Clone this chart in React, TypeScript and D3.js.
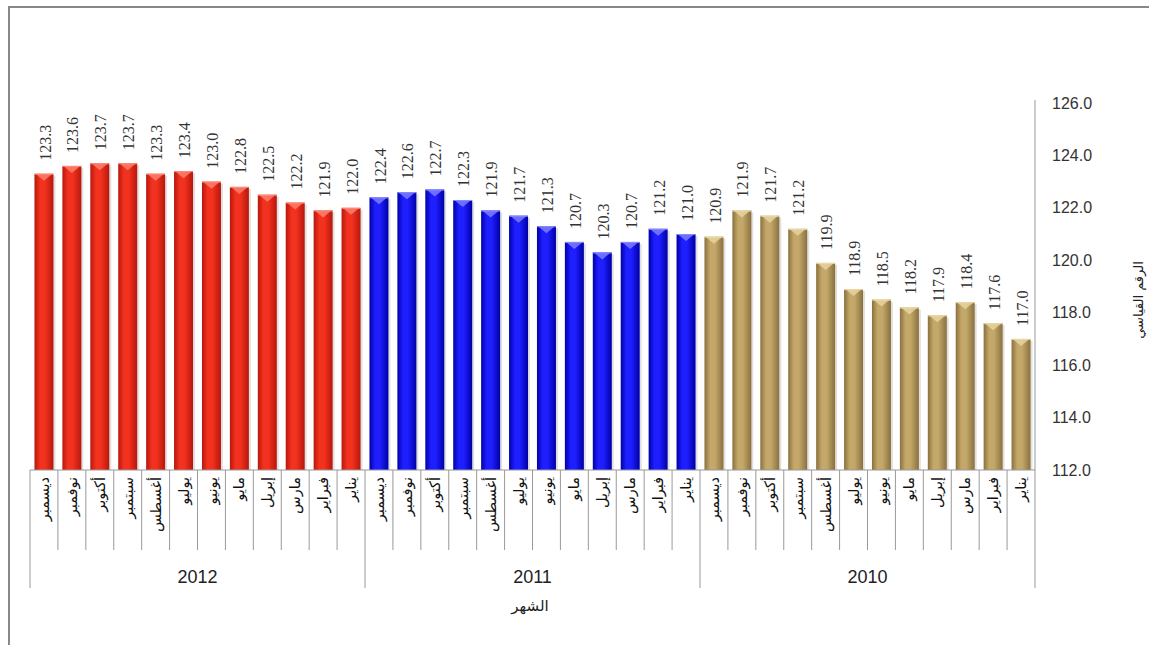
import React from 'react';
import * as d3 from 'd3';

// years are shown left to right, months within each year from December to January
const years = ['2012', '2011', '2010'];
const months = ['ديسمبر', 'نوفمبر', 'أكتوبر', 'سبتمبر', 'أغسطس', 'يوليو', 'يونيو', 'مايو', 'إبريل', 'مارس', 'فبراير', 'يناير'];
const values2012 = [123.3, 123.6, 123.7, 123.7, 123.3, 123.4, 123.0, 122.8, 122.5, 122.2, 121.9, 122.0];
const values2011 = [122.4, 122.6, 122.7, 122.3, 121.9, 121.7, 121.3, 120.7, 120.3, 120.7, 121.2, 121.0];
const values2010 = [120.9, 121.9, 121.7, 121.2, 119.9, 118.9, 118.5, 118.2, 117.9, 118.4, 117.6, 117.0];
const yTicks = [112, 114, 116, 118, 120, 122, 124, 126];
const yTitle = 'الرقم القياسي';
const xTitle = 'الشهر';

const seriesValues = [values2012, values2011, values2010];
const palette = [
  { id: 'red', edge: '#b8170c', mid: '#f2321f', light: '#ff8a78' },
  { id: 'blue', edge: '#0000a8', mid: '#1e1eff', light: '#8a8aff' },
  { id: 'gold', edge: '#8a703e', mid: '#c4a86a', light: '#ecd9a6' },
];

const W = 1149;
const H = 645;
const left = 30;
const right = 1035;
const bottom = 470;
const top = 103;

const arabicFont = '"DejaVu Sans", sans-serif';
const latinFont = '"Liberation Sans", Arial, sans-serif';
const serifFont = '"Liberation Serif", "Times New Roman", serif';

const App: React.FC = () => {
  const data = years.flatMap((yr, gi) =>
    months.map((m, mi) => ({ key: `${yr}-${mi}`, year: yr, group: gi, month: m, value: seriesValues[gi][mi] }))
  );

  const x = d3.scaleBand<string>()
    .domain(data.map(d => d.key))
    .range([left, right])
    .paddingInner(0.32)
    .paddingOuter(0.16);

  const y = d3.scaleLinear().domain([112, 126]).range([bottom, top]);

  const step = x.step();
  const bw = x.bandwidth();
  const groupW = step * months.length;
  const boundaries = d3.range(data.length + 1).map(i => left + i * step);

  return (
    <svg width={W} height={H} style={{ position: 'absolute', left: 0, top: 0, background: '#fff' }}>
      <defs>
        {palette.map(p => (
          <linearGradient key={p.id} id={`g-${p.id}`} x1="0" x2="1" y1="0" y2="0">
            <stop offset="0%" stopColor={p.edge} />
            <stop offset="30%" stopColor={p.mid} />
            <stop offset="55%" stopColor={p.mid} />
            <stop offset="100%" stopColor={p.edge} />
          </linearGradient>
        ))}
      </defs>

      {/* outer frame (only top and left edges are visible) */}
      <line x1={8} x2={W} y1={7} y2={7} stroke="#888" strokeWidth={2} />
      <line x1={9} x2={9} y1={6} y2={H} stroke="#888" strokeWidth={2} />

      {/* bars */}
      {data.map(d => {
        const bx = x(d.key) as number;
        const by = y(d.value);
        const p = palette[d.group];
        return (
          <g key={d.key}>
            <rect x={bx + 2} y={by + 2} width={bw} height={bottom - by - 2} fill="#000" opacity={0.12} />
            <rect x={bx} y={by} width={bw} height={bottom - by} fill={`url(#g-${p.id})`} />
            <polygon
              points={`${bx + 1},${by} ${bx + bw - 1},${by} ${bx + bw / 2},${by + 7}`}
              fill={p.light}
              opacity={0.75}
            />
            <line x1={bx} x2={bx + bw} y1={by + 0.5} y2={by + 0.5} stroke={p.light} strokeWidth={1} />
          </g>
        );
      })}

      {/* value labels */}
      {data.map(d => {
        const cx = (x(d.key) as number) + bw / 2;
        return (
          <text
            key={`v-${d.key}`}
            transform={`translate(${cx + 1},${y(d.value) - 13}) rotate(-90)`}
            dy="0.35em"
            textAnchor="start"
            fontFamily={serifFont}
            fontSize={16}
            fill="#333"
          >
            {d.value.toFixed(1)}
          </text>
        );
      })}

      {/* category axis */}
      <line x1={left} x2={right} y1={bottom} y2={bottom} stroke="#999" strokeWidth={1} />
      {boundaries.map((bx, i) => (
        <line
          key={`t-${i}`}
          x1={bx}
          x2={bx}
          y1={bottom}
          y2={i % months.length === 0 ? 588 : 550}
          stroke="#999"
          strokeWidth={1}
        />
      ))}
      {data.map(d => {
        const cx = (x(d.key) as number) + bw / 2;
        return (
          <text
            key={`m-${d.key}`}
            transform={`translate(${cx},${bottom + 7}) rotate(-90)`}
            dy="0.35em"
            textAnchor="end"
            fontFamily={arabicFont}
            fontSize={14.5}
            fill="#111"
          >
            {d.month}
          </text>
        );
      })}
      {years.map((yr, gi) => (
        <text
          key={`y-${yr}`}
          x={left + groupW * gi + groupW / 2}
          y={583}
          textAnchor="middle"
          fontFamily={latinFont}
          fontSize={18}
          fill="#222"
        >
          {yr}
        </text>
      ))}
      <text x={530} y={611} textAnchor="middle" fontFamily={arabicFont} fontSize={15} fill="#222">
        {xTitle}
      </text>

      {/* value axis on the right */}
      <line x1={right} x2={right} y1={top - 3} y2={bottom} stroke="#999" strokeWidth={1} />
      {yTicks.map(t => (
        <text
          key={`yt-${t}`}
          x={1052}
          y={y(t)}
          dy="0.35em"
          fontFamily={latinFont}
          fontSize={16}
          fill="#333"
        >
          {t.toFixed(1)}
        </text>
      ))}
      <text
        transform={`translate(1138,300) rotate(-90)`}
        textAnchor="middle"
        dy="0.35em"
        fontFamily={arabicFont}
        fontSize={13}
        fill="#222"
      >
        {yTitle}
      </text>
    </svg>
  );
};

export default App;
